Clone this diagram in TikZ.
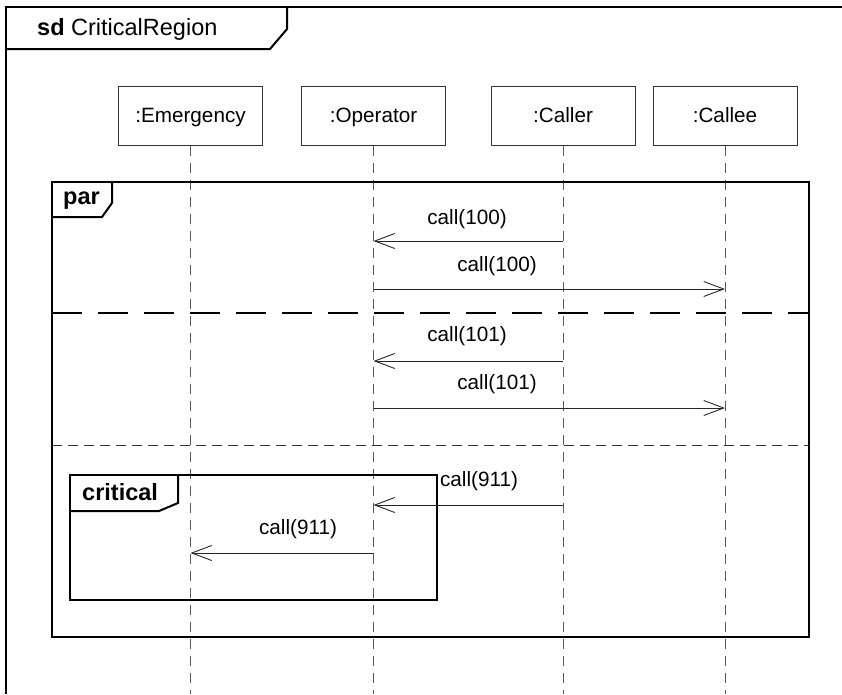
\documentclass[tikz,border=0pt]{standalone}
\usepackage{fontspec}
\setmainfont{Liberation Sans}
\usetikzlibrary{arrows.meta}
\begin{document}
\begin{tikzpicture}[x=1pt,y=-1pt,
  lifebox/.style={draw=black!80, line width=1pt, minimum width=144pt, minimum height=59pt, inner sep=0pt, text height=19pt, text depth=4.4pt, font=\fontsize{20.7}{24}\selectfont},
  lifeline/.style={draw=black!65, line width=1pt, dash pattern=on 10pt off 7pt},
  msg/.style={draw=black!85, line width=0.9pt, -{Straight Barb[length=20pt,width=15pt,line width=0.9pt]}},
  msglabel/.style={font=\fontsize{20.7}{24}\selectfont, inner sep=1pt},
  frameline/.style={draw=black, line width=2pt},
  taglabel/.style={font=\fontsize{23.5}{28}\selectfont, anchor=base west, inner sep=0pt},
  septhick/.style={draw=black, line width=1.6pt, dash pattern=on 30pt off 16pt},
  septhin/.style={draw=black!80, line width=1pt, dash pattern=on 10pt off 6pt}
]
\useasboundingbox (0,0) rectangle (842,694);

% outer sd frame
\draw[frameline] (6,694) -- (6,7) -- (842,7);
\draw[frameline] (6,49) -- (270,49) -- (287,29) -- (287,7);
\node[taglabel] (title) at (37,35) {\textbf{sd} CriticalRegion};

% lifeline heads
\node[lifebox] (em) at (190.5,115.5) {:Emergency};
\node[lifebox] (op) at (373.5,115.5) {:Operator};
\node[lifebox] (cr) at (563,115.5) {:Caller};
\node[lifebox] (ce) at (725,115.5) {:Callee};

\coordinate (emEnd) at (190.5,694);
\coordinate (opEnd) at (373.5,694);
\coordinate (crEnd) at (563,694);
\coordinate (ceEnd) at (725,694);
\draw[lifeline] (em) -- (emEnd);
\draw[lifeline] (op) -- (opEnd);
\draw[lifeline] (cr) -- (crEnd);
\draw[lifeline] (ce) -- (ceEnd);

% par fragment
\draw[frameline] (52,182) rectangle (809,637);
\draw[frameline] (52,217) -- (102,217) -- (112,203) -- (112,182);
\node[taglabel] (par) at (63,204) {\textbf{par}};
\draw[septhick] (52,313) -- (809,313);
\draw[septhin] (52,445) -- (809,445);

% critical fragment
\draw[frameline] (70,475) rectangle (437,600);
\draw[frameline] (70,511) -- (159,511) -- (178,503) -- (178,475);
\node[taglabel] (crit) at (82,500) {\textbf{critical}};

% message end points
\coordinate (m1a) at (563,241);   \coordinate (m1b) at (373.5,241);
\coordinate (m2a) at (373.5,289); \coordinate (m2b) at (725,289);
\coordinate (m3a) at (563,361);   \coordinate (m3b) at (373.5,361);
\coordinate (m4a) at (373.5,408); \coordinate (m4b) at (725,408);
\coordinate (m5a) at (563,505);   \coordinate (m5b) at (373.5,505);
\coordinate (m6a) at (373.5,553); \coordinate (m6b) at (190.5,553);

\draw[msg] (m1a) -- (m1b);
\draw[msg] (m2a) -- (m2b);
\draw[msg] (m3a) -- (m3b);
\draw[msg] (m4a) -- (m4b);
\draw[msg] (m5a) -- (m5b);
\draw[msg] (m6a) -- (m6b);

\node[msglabel] (l1) at (467,219) {call(100)};
\node[msglabel] (l2) at (497,266) {call(100)};
\node[msglabel] (l3) at (467,336) {call(101)};
\node[msglabel] (l4) at (497,384) {call(101)};
\node[msglabel, fill=white, inner xsep=2pt, inner ysep=6pt] (l5) at (479,481) {call(911)};
\node[msglabel] (l6) at (298,529) {call(911)};
\end{tikzpicture}
\end{document}
